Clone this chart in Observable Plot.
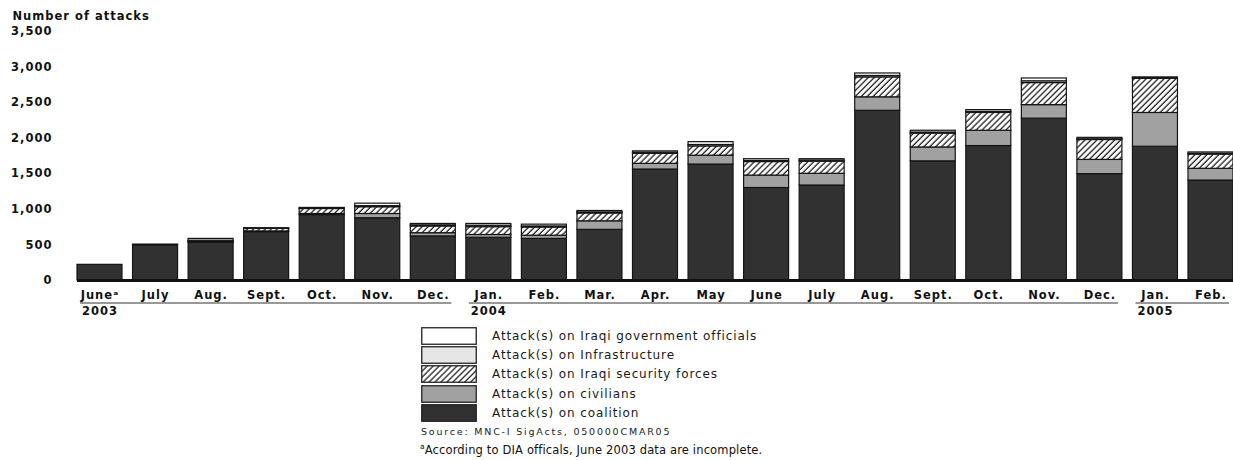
<!DOCTYPE html>
<html>
<head>
<meta charset="utf-8">
<script src="https://cdn.jsdelivr.net/npm/d3@7"></script>
<script src="https://cdn.jsdelivr.net/npm/@observablehq/plot@0.6"></script>
<style>
  html, body { margin: 0; padding: 0; background: #fff; }
  #wrap { position: relative; width: 1233px; height: 460px; font-family: "DejaVu Sans", sans-serif; color: #111; }
  #chart svg { display: block; }
  #legend { position: absolute; left: 421px; top: 326px; }
  .row { display: flex; align-items: center; height: 19.3px; }
  .row svg { display: block; }
  .row span { margin-left: 15px; font-size: 12px; letter-spacing: 0.9px; color: #1a1a1a; }
  #source { position: absolute; left: 421px; top: 426px; font-size: 9.5px; letter-spacing: 1.8px; color: #222; }
  #note { position: absolute; left: 420px; top: 442px; font-size: 11.5px; letter-spacing: 0.15px; color: #111; }
  #note sup { font-size: 7.5px; }
</style>
</head>
<body>
<div id="wrap">
  <div id="chart"></div>
  <div id="legend"></div>
  <div id="source"></div>
  <div id="note"></div>
</div>
<script>
// ---- Data ----
const monthLabels = ["June", "July", "Aug.", "Sept.", "Oct.", "Nov.", "Dec.",
  "Jan.", "Feb.", "Mar.", "Apr.", "May", "June", "July", "Aug.", "Sept.", "Oct.", "Nov.", "Dec.",
  "Jan.", "Feb."];
const monthYears = [2003, 2003, 2003, 2003, 2003, 2003, 2003,
  2004, 2004, 2004, 2004, 2004, 2004, 2004, 2004, 2004, 2004, 2004, 2004,
  2005, 2005];

const coalition      = [220, 495, 530, 680, 920, 875, 620, 600, 585, 712, 1560, 1630, 1300, 1335, 2385, 1675, 1890, 2275, 1495, 1880, 1405];
const civilians      = [0, 10, 10, 10, 15, 60, 45, 40, 45, 120, 80, 125, 175, 165, 190, 195, 215, 190, 200, 475, 165];
const securityForces = [0, 0, 10, 35, 70, 95, 95, 110, 115, 110, 140, 130, 190, 170, 280, 195, 250, 310, 280, 480, 200];
const infrastructure = [0, 0, 10, 5, 10, 15, 15, 20, 15, 15, 15, 20, 15, 15, 20, 15, 15, 25, 10, 10, 10];
const govOfficials   = [0, 0, 25, 5, 5, 35, 20, 25, 25, 20, 20, 40, 25, 20, 35, 25, 25, 40, 20, 10, 20];

// stack order, bottom to top
const seriesNames = [
  "Attack(s) on coalition",
  "Attack(s) on civilians",
  "Attack(s) on Iraqi security forces",
  "Attack(s) on Infrastructure",
  "Attack(s) on Iraqi government officials"
];
const seriesValues = [coalition, civilians, securityForces, infrastructure, govOfficials];
const seriesFills = ["#313131", "#a1a1a1", "url(#hatch)", "#e6e6e6", "#ffffff"];

const yTicks = [0, 500, 1000, 1500, 2000, 2500, 3000, 3500];
const yTitle = "Number of attacks";
const footnotedMonth = 0;
const sourceText = "Source: MNC-I SigActs, 050000CMAR05";
const noteText = "According to DIA officals, June 2003 data are incomplete.";

// ---- Derived tables ----
const keys = monthLabels.map((m, i) => `${m} ${monthYears[i]}`);
const rows = [];
seriesNames.forEach((s, si) => {
  seriesValues[si].forEach((v, i) => rows.push({key: keys[i], series: s, value: v}));
});
const years = Array.from(new Set(monthYears));
const yearGroups = years.map(yr => {
  const idx = monthYears.map((y, i) => y === yr ? i : -1).filter(i => i >= 0);
  return {year: yr, first: keys[idx[0]], last: keys[idx[idx.length - 1]]};
});
const labelOf = new Map(keys.map((k, i) => [k, monthLabels[i] + (i === footnotedMonth ? "\u1D43" : "")]));
const yearOf = new Map(yearGroups.map(g => [g.first, String(g.year)]));

// year underline mark (uses the plot's own scales)
function yearRules(index, scales) {
  const x = scales.x, y = scales.y;
  const bw = x.bandwidth();
  const yy = y(0) + 23;
  const g = d3.create("svg:g").attr("stroke", "#333").attr("stroke-width", 1);
  g.selectAll("line").data(yearGroups).join("line")
    .attr("x1", d => x(d.first) + 3)
    .attr("x2", d => x(d.last) + bw - 4)
    .attr("y1", yy).attr("y2", yy);
  return g.node();
}

const chart = Plot.plot({
  width: 1233,
  height: 320,
  marginLeft: 77,
  marginRight: 0,
  marginTop: 31,
  marginBottom: 40,
  style: {fontFamily: "DejaVu Sans, sans-serif", background: "#fff", color: "#111", letterSpacing: "1px"},
  x: {domain: keys, paddingInner: 0.19, paddingOuter: 0, round: false, axis: null},
  y: {domain: [0, 3500], axis: null},
  color: {type: "ordinal", domain: seriesNames, range: seriesFills},
  marks: [
    Plot.barY(rows, {x: "key", y: "value", fill: "series", order: seriesNames, stroke: "#141414", strokeWidth: 1.2}),
    Plot.ruleY([0], {stroke: "#111", strokeWidth: 3}),
    Plot.axisY(yTicks, {tickSize: 0, tickPadding: 25, tickFormat: d3.format(","), fontWeight: "bold", fontSize: 11.5, label: null}),
    Plot.axisX(keys, {tickSize: 0, tickPadding: 10, tickFormat: d => labelOf.get(d), fontWeight: "bold", fontSize: 11.5, label: null}),
    Plot.axisX(yearGroups.map(g => g.first), {tickSize: 0, tickPadding: 26, tickFormat: d => yearOf.get(d), textAnchor: "start", dx: -18, fontWeight: "bold", fontSize: 11.5, label: null}),
    yearRules,
    Plot.text([yTitle], {frameAnchor: "top-left", dx: -65, dy: -20, textAnchor: "start", fontWeight: "bold", fontSize: 11.5})
  ]
});

// hatch pattern definition
const defs = d3.select(chart).insert("defs", ":first-child");
const pat = defs.append("pattern").attr("id", "hatch")
  .attr("patternUnits", "userSpaceOnUse").attr("width", 4.2).attr("height", 4.2)
  .attr("patternTransform", "rotate(45)");
pat.append("rect").attr("width", 4.2).attr("height", 4.2).attr("fill", "#fff");
pat.append("line").attr("x1", 1).attr("x2", 1).attr("y1", 0).attr("y2", 4.2)
  .attr("stroke", "#111").attr("stroke-width", 1.2);

document.getElementById("chart").appendChild(chart);

// ---- Legend (top-down order) ----
const legendItems = seriesNames.map((s, i) => ({name: s, fill: seriesFills[i]})).reverse();
const legend = d3.select("#legend");
const rowsSel = legend.selectAll("div").data(legendItems).join("div").attr("class", "row");
rowsSel.each(function(d, i) {
  const r = d3.select(this);
  const sv = r.append("svg").attr("width", 56).attr("height", 18);
  const pid = "hatchL" + i;
  const dd = sv.append("defs").append("pattern").attr("id", pid)
    .attr("patternUnits", "userSpaceOnUse").attr("width", 4.2).attr("height", 4.2)
    .attr("patternTransform", "rotate(45)");
  dd.append("rect").attr("width", 4.2).attr("height", 4.2).attr("fill", "#fff");
  dd.append("line").attr("x1", 1).attr("x2", 1).attr("y1", 0).attr("y2", 4.2)
    .attr("stroke", "#111").attr("stroke-width", 1.2);
  sv.append("rect").attr("x", 0.75).attr("y", 0.75).attr("width", 54.5).attr("height", 16.5)
    .attr("fill", d.fill.startsWith("url") ? `url(#${pid})` : d.fill)
    .attr("stroke", "#222").attr("stroke-width", 1.3);
  r.append("span").text(d.name);
});
d3.select("#source").text(sourceText);
d3.select("#note").html("<sup>a</sup>" + noteText);
</script>
</body>
</html>
